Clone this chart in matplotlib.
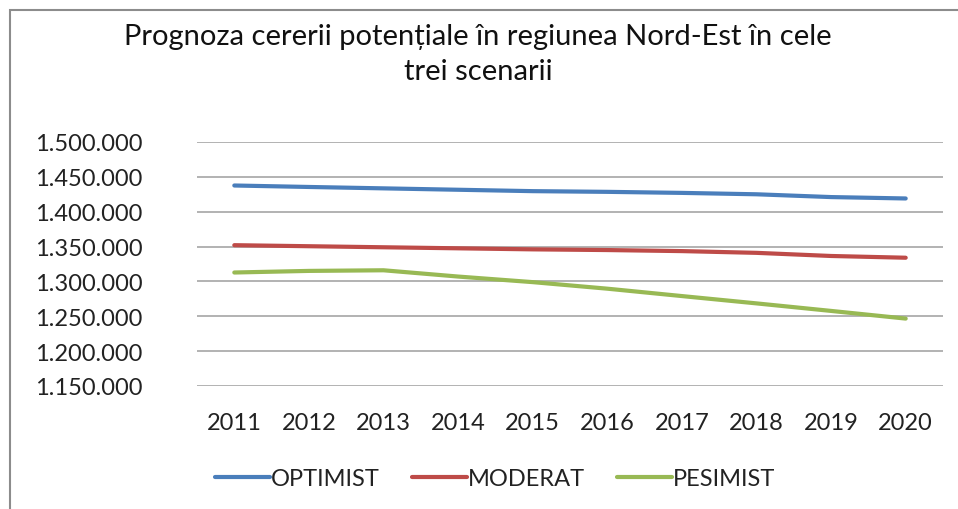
import matplotlib
matplotlib.use("Agg")
import matplotlib.pyplot as plt
from matplotlib.ticker import FuncFormatter, MultipleLocator
from matplotlib.patches import Rectangle

# Date
ani = ['2011', '2012', '2013', '2014', '2015', '2016', '2017', '2018', '2019', '2020']
optimist = [1437600, 1435500, 1433500, 1431500, 1429500, 1428500, 1427000, 1425000, 1421000, 1419000]
moderat = [1352000, 1350500, 1349000, 1347500, 1346000, 1345000, 1343500, 1341000, 1336500, 1334000]
pesimist = [1312800, 1315100, 1316000, 1307000, 1299000, 1289600, 1279000, 1268500, 1257700, 1246700]
serii = ['OPTIMIST', 'MODERAT', 'PESIMIST']
culori = ['#4A7EBB', '#BE4B48', '#98B954']

plt.rcParams['font.family'] = ['Lato', 'DejaVu Sans']

W, H = 958, 510
fig = plt.figure(figsize=(W / 100, H / 100), dpi=100)
ax = fig.add_axes([197 / W, 1 - 387 / H, (943 - 197) / W, (387 - 143) / H])

x = list(range(len(ani)))
for valori, nume, c in zip([optimist, moderat, pesimist], serii, culori):
    ax.plot(x, valori, color=c, lw=3.0, label=nume, solid_capstyle='round')

ax.set_xlim(-0.5, len(ani) - 0.5)
ax.set_ylim(1150000, 1500000)
ax.yaxis.set_major_locator(MultipleLocator(50000))
ax.yaxis.set_major_formatter(FuncFormatter(lambda v, p: f"{int(v):,}".replace(",", ".")))
ax.set_xticks(x)
ax.set_xticklabels(ani)
ax.grid(axis='y', color='#a6a6a6', lw=1.2)
ax.set_axisbelow(True)
for s in ax.spines.values():
    s.set_visible(False)
ax.tick_params(axis='both', length=0, labelsize=17, colors='#222222')
ax.tick_params(axis='y', pad=39)
ax.tick_params(axis='x', pad=19)

fig.text(478 / W, 1 - 37 / H, 'Prognoza cererii potențiale în regiunea Nord-Est în cele',
         ha='center', va='center', fontsize=21, color='#111111')
fig.text(478 / W, 1 - 72 / H, 'trei scenarii',
         ha='center', va='center', fontsize=21, color='#111111')

fig.legend(loc='center', bbox_to_anchor=(495 / W, 1 - 480 / H), ncol=3, frameon=False,
           fontsize=17, handlelength=2.33, handletextpad=0.05, columnspacing=1.35,
           labelcolor='#222222')

fig.add_artist(Rectangle((9.5 / W, -0.05), 1.1, 1 - 10.7 / H + 0.05, transform=fig.transFigure,
                         fill=False, edgecolor='#8c8c8c', lw=1.5))

fig.savefig('out.png', dpi=100, facecolor='white')
